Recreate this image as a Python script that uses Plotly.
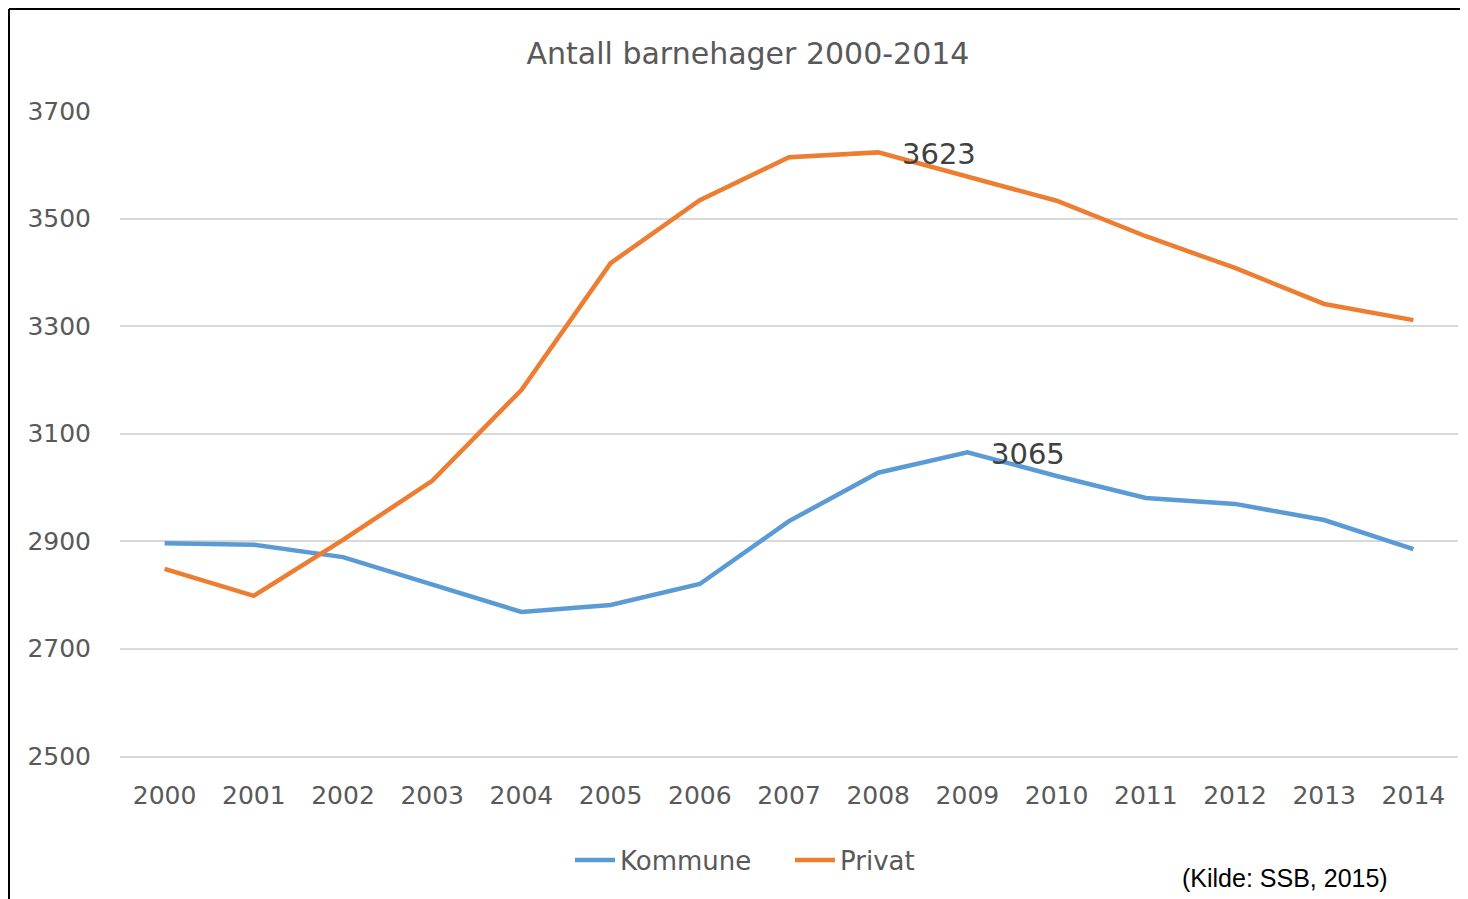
import plotly.graph_objects as go

years = [str(y) for y in range(2000, 2015)]
kommune = [2896, 2893, 2870, 2818, 2768, 2781, 2820, 2937, 3027, 3065, 3021, 2980, 2969, 2939, 2885]
privat = [2848, 2798, 2902, 3012, 3181, 3417, 3534, 3614, 3623, 3577, 3533, 3467, 3408, 3341, 3311]
y_ticks = [2500, 2700, 2900, 3100, 3300, 3500, 3700]

OFF = 8  # page body margin
W, H = 1468 - OFF, 899 - OFF
# plot area in page coordinates
PL, PR, PT, PB = 120, 1458, 111, 756
L, T = PL - OFF, PT - OFF
R = W - (PR - OFF)
B = H - (PB - OFF)
pw, ph = W - L - R, H - T - B

def px(x):  # page x -> paper
    return (x - OFF - L) / pw

def py(y):  # page y -> paper
    return (PB - y) / ph

font = "DejaVu Sans"
grey = "#595959"

fig = go.Figure()
fig.add_trace(go.Scatter(x=years, y=kommune, name="Kommune", mode="lines",
                         line=dict(color="#5B9BD5", width=4.5)))
fig.add_trace(go.Scatter(x=years, y=privat, name="Privat", mode="lines",
                         line=dict(color="#ED7D31", width=4.5)))

fig.update_layout(
    width=W, height=H,
    margin=dict(l=L, r=R, t=T, b=B),
    paper_bgcolor="white", plot_bgcolor="white",
    title=dict(text="Antall barnehager 2000-2014", x=(748 - OFF) / W, xref="container", xanchor="center",
               y=1 - (53 - OFF) / H, yanchor="middle",
               font=dict(family=font, size=30, color=grey)),
    showlegend=True,
    legend=dict(orientation="h", x=px(575 - 5), xanchor="left", y=py(860), yanchor="middle",
                font=dict(family=font, size=26, color=grey), itemwidth=40,
                entrywidth=165, entrywidthmode="pixels"),
    xaxis=dict(type="category", range=[-0.5, 14.5], showgrid=False, ticks="",
               showline=True, linecolor="#D9D9D9", linewidth=1.5,
               tickfont=dict(family=font, size=25, color=grey), ticklabelstandoff=16),
    yaxis=dict(range=[2500, 3700], tickvals=y_ticks, showgrid=True, gridcolor="#D9D9D9", gridwidth=1.5,
               zeroline=False, ticks="", tickfont=dict(family=font, size=25, color=grey),
               ticklabelstandoff=28),
)

i_p = privat.index(max(privat))
i_k = kommune.index(max(kommune))
fig.add_annotation(x=i_p, y=privat[i_p], text=str(privat[i_p]), showarrow=False, xanchor="left",
                   xshift=22, yshift=-2, font=dict(family=font, size=29, color="#404040"))
fig.add_annotation(x=i_k, y=kommune[i_k], text=str(kommune[i_k]), showarrow=False, xanchor="left",
                   xshift=22, yshift=-2, font=dict(family=font, size=29, color="#404040"))
fig.add_annotation(x=px(1390), y=py(878), xref="paper", yref="paper", text="(Kilde: SSB, 2015)",
                   showarrow=False, xanchor="right", yanchor="middle",
                   font=dict(family="Liberation Sans", size=25, color="black"))

fig.add_shape(type="line", xref="paper", yref="paper", x0=px(9), x1=px(9), y0=py(9), y1=py(H + 20),
              line=dict(color="black", width=2))
fig.add_shape(type="line", xref="paper", yref="paper", x0=px(9), x1=px(W + 20), y0=py(9), y1=py(9),
              line=dict(color="black", width=2))

fig.write_html("out.html")
